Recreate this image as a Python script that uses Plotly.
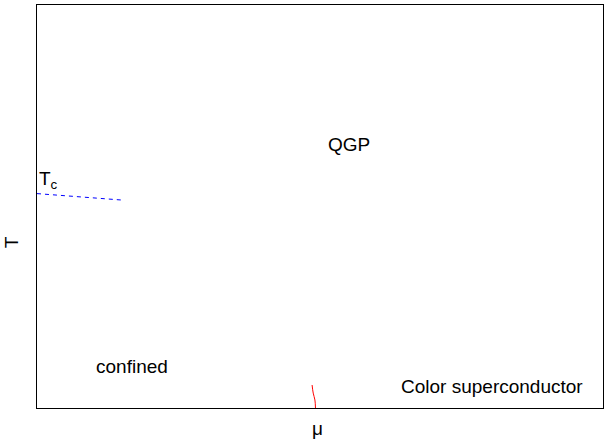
import plotly.graph_objects as go

# Data (axis units: mu in [0,1], T in [0,1])
tc_line_mu = [0.0, 0.075, 0.15]
tc_line_T = [0.532, 0.524, 0.516]

cs_line_mu = [0.486, 0.488, 0.491, 0.492]
cs_line_T = [0.057, 0.037, 0.020, 0.0]

label_text = ["QGP", "confined", "Color superconductor", "T<sub>c</sub>"]
label_mu = [0.551, 0.167, 0.803, 0.0]
label_T = [0.655, 0.104, 0.054, 0.565]

FONT = "Liberation Sans, Arial, sans-serif"

fig = go.Figure()
fig.add_trace(go.Scatter(x=tc_line_mu, y=tc_line_T, mode="lines",
                         line=dict(color="#0000FF", width=1, dash="4px,4px"),
                         showlegend=False, hoverinfo="skip"))
fig.add_trace(go.Scatter(x=cs_line_mu, y=cs_line_T, mode="lines",
                         line=dict(color="#FF0000", width=1, shape="spline"),
                         showlegend=False, hoverinfo="skip"))

annotations = []
for t, x, y in zip(label_text, label_mu, label_T):
    annotations.append(dict(x=x, y=y, xref="x", yref="y", text=t, showarrow=False,
                            xanchor="left" if t.startswith("T") else "center",
                            yanchor="middle",
                            font=dict(family=FONT, size=19, color="black")))
annotations.append(dict(x=0.495, y=-0.052, xref="paper", yref="paper", text="μ",
                        showarrow=False, xanchor="center", yanchor="middle",
                        font=dict(family=FONT, size=19, color="black")))
annotations.append(dict(x=-0.045, y=0.41, xref="paper", yref="paper", text="T",
                        showarrow=False, xanchor="center", yanchor="middle", textangle=-90,
                        font=dict(family=FONT, size=19, color="black")))

axis_common = dict(range=[0, 1], showgrid=False, zeroline=False, showticklabels=False,
                   ticks="", showline=True, mirror=True, linecolor="black", linewidth=1)

fig.update_layout(
    width=612, height=440,
    margin=dict(l=37, r=9, t=5, b=32),
    paper_bgcolor="white", plot_bgcolor="white",
    xaxis=axis_common, yaxis=axis_common,
    annotations=annotations,
    font=dict(family=FONT, size=19, color="black"),
)

fig.write_html("out.html",
               config={"displayModeBar": False, "staticPlot": True},
               post_script="document.body.style.margin='0';document.body.style.overflow='hidden';")
